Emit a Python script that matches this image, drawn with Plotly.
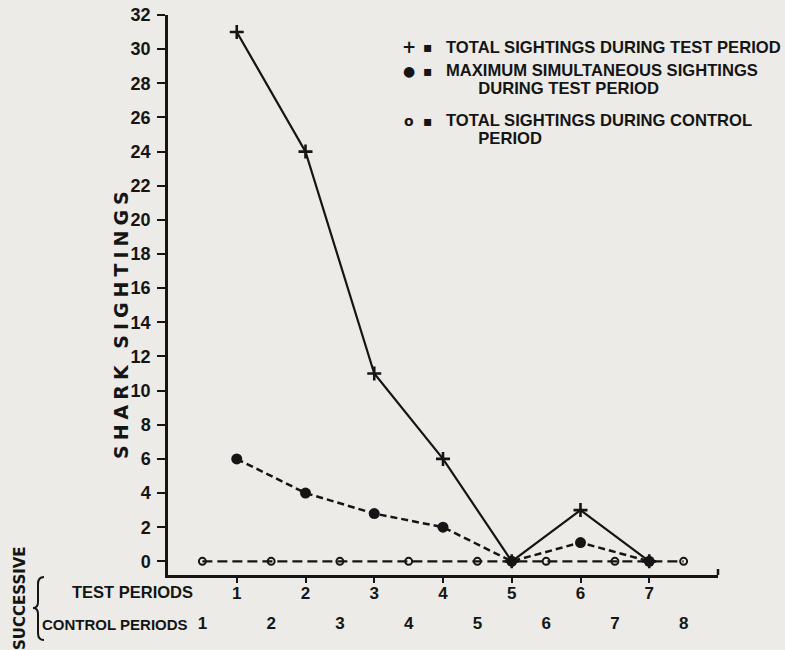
import plotly.graph_objects as go

INK = "#151515"
PAPER_BG = "#ecebe7"
TEXT_FONT = "DejaVu Sans"
NUM_FONT = "Liberation Sans"

# ---- data ----
test_periods = [1, 2, 3, 4, 5, 6, 7]
test_total = [31, 24, 11, 6, 0, 3, 0]
test_max_simultaneous = [6, 4, 2.8, 2, 0, 1.1, 0]
control_periods = [1, 2, 3, 4, 5, 6, 7, 8]
control_total = [0, 0, 0, 0, 0, 0, 0, 0]
y_ticks = list(range(0, 33, 2))

legend_rows = [
    ("+", ["TOTAL SIGHTINGS DURING TEST PERIOD"]),
    ("●", ["MAXIMUM SIMULTANEOUS SIGHTINGS", "DURING TEST PERIOD"]),
    ("o", ["TOTAL SIGHTINGS DURING CONTROL", "PERIOD"]),
]

# plot area in pixels (785 x 650 page)
L, R, T, B = 168, 718, 15, 575
W, H = R - L, B - T


def px(x):
    return (x - L) / W


def py(y):
    return (B - y) / H


fig = go.Figure()

fig.add_trace(go.Scatter(
    x=control_periods, y=control_total, xaxis="x2", yaxis="y",
    mode="lines+markers", name="control",
    line=dict(color=INK, width=2.2, dash="10px,5px"),
    marker=dict(symbol="circle-open", size=7, color=INK, line=dict(width=2, color=INK)),
))
fig.add_trace(go.Scatter(
    x=test_periods, y=test_max_simultaneous,
    mode="lines+markers", name="max simultaneous",
    line=dict(color=INK, width=2.5, dash="7px,4px"),
    marker=dict(symbol="circle", size=11, color=INK),
))
fig.add_trace(go.Scatter(
    x=test_periods, y=test_total,
    mode="lines+markers", name="total test",
    line=dict(color=INK, width=2.2),
    marker=dict(symbol="cross-thin", size=10, color=INK, line=dict(width=2.6, color=INK)),
))

axis_common = dict(showgrid=False, zeroline=False, color=INK, automargin=False)

fig.update_layout(
    width=785, height=650,
    margin=dict(l=L, r=785 - R, t=T, b=650 - B),
    paper_bgcolor=PAPER_BG, plot_bgcolor=PAPER_BG,
    showlegend=False,
    xaxis=dict(
        **axis_common, range=[0, 8], anchor="y",
        tickmode="array", tickvals=test_periods, ticktext=[str(p) for p in test_periods],
        ticks="outside", ticklen=5, tickwidth=2, tickcolor=INK,
        showline=True, linewidth=2.5, linecolor=INK,
        tickfont=dict(family=NUM_FONT, size=17, weight="bold", color=INK),
        ticklabelstandoff=-4,
    ),
    xaxis2=dict(
        **axis_common, range=[0.5, 8.5], overlaying="x", anchor="y", side="bottom",
        tickmode="array", tickvals=control_periods, ticktext=[str(p) for p in control_periods],
        ticks="", showline=False,
        tickfont=dict(family=NUM_FONT, size=17, weight="bold", color=INK),
        ticklabelstandoff=36,
    ),
    yaxis=dict(
        **axis_common, range=[-0.8, 32],
        tickmode="array", tickvals=y_ticks,
        ticks="outside", ticklen=8, tickwidth=2, tickcolor=INK,
        showline=True, linewidth=2.5, linecolor=INK,
        tickfont=dict(family=NUM_FONT, size=18, weight="bold", color=INK),
        ticklabelstandoff=3,
    ),
)

bold = lambda size, fam=TEXT_FONT: dict(family=fam, size=size, color=INK, weight="bold")

# axis titles
fig.add_annotation(
    x=px(121), y=py(323), xref="paper", yref="paper", showarrow=False,
    text='<span style="letter-spacing:5px">SHARK SIGHTINGS</span>',
    textangle=-90, font=bold(19), xanchor="center", yanchor="middle",
)
fig.add_annotation(
    x=px(20), y=py(598), xref="paper", yref="paper", showarrow=False,
    text="SUCCESSIVE", textangle=-90, font=bold(15),
    xanchor="center", yanchor="middle",
)
fig.add_annotation(
    x=px(132), y=py(592), xref="paper", yref="paper", showarrow=False,
    text="TEST PERIODS", font=bold(16.5, NUM_FONT), xanchor="center", yanchor="middle",
)
fig.add_annotation(
    x=px(190), y=py(624), xref="paper", yref="paper", showarrow=False,
    text="CONTROL PERIODS", font=bold(15, NUM_FONT), xanchor="right", yanchor="middle",
)

# curly brace joining the two period rows
brace = (
    f"M {px(44)},{py(577)} Q {px(38)},{py(577)} {px(38)},{py(584)} "
    f"L {px(38)},{py(602)} Q {px(38)},{py(608)} {px(33)},{py(608)} "
    f"Q {px(38)},{py(608)} {px(38)},{py(614)} L {px(38)},{py(633)} "
    f"Q {px(38)},{py(640)} {px(44)},{py(640)}"
)
fig.add_shape(type="path", path=brace, xref="paper", yref="paper",
              line=dict(color=INK, width=2))
# small upturn at the end of the x axis
fig.add_shape(type="line", xref="paper", yref="paper",
              x0=1, x1=1, y0=0, y1=py(569), line=dict(color=INK, width=2.5))

# key in the top right corner; base font 13.5 sets the tight 17.5px line pitch,
# the span sets the glyph size
INDENT = "&nbsp;" * 7
row_center = [47, 79.75, 129.5]
row_symbol_y = [47, 71, 121]
for (symbol, lines), yc, ys in zip(legend_rows, row_center, row_symbol_y):
    fig.add_annotation(x=px(409), y=py(ys), xref="paper", yref="paper", showarrow=False,
                       text=symbol, font=bold(17 if symbol == "+" else 14),
                       xanchor="center", yanchor="middle")
    fig.add_annotation(x=px(428), y=py(ys), xref="paper", yref="paper", showarrow=False,
                       text="▪", font=bold(14), xanchor="center", yanchor="middle")
    body = "<br>".join(
        f'<span style="font-size:16.6px">{INDENT if i else ""}{line}</span>'
        for i, line in enumerate(lines)
    )
    fig.add_annotation(x=px(444), y=py(yc), xref="paper", yref="paper",
                       showarrow=False, text=body, align="left",
                       font=bold(13.5, NUM_FONT), xanchor="left", yanchor="middle")

# page body margin would push the 785x650 figure off the window
fig.write_html("out.html", config={"displayModeBar": False},
               post_script="document.body.style.margin='0';")
